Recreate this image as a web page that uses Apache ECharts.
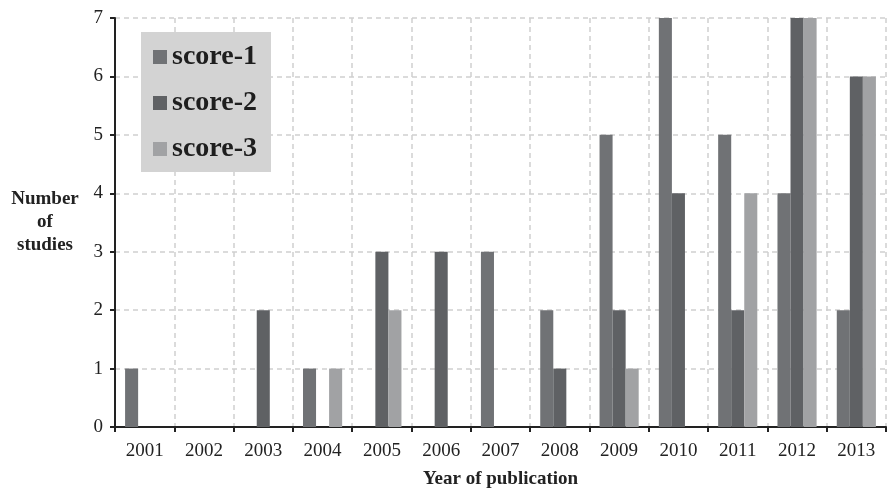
<!DOCTYPE html>
<html>
<head>
<meta charset="utf-8">
<script src="https://cdn.jsdelivr.net/npm/echarts@6/dist/echarts.min.js"></script>
<style>
  html, body { margin: 0; padding: 0; background: #fff; }
  #chart { width: 887px; height: 489px; }
</style>
</head>
<body>
<div id="chart"></div>
<script>
const years = ['2001', '2002', '2003', '2004', '2005', '2006', '2007', '2008', '2009', '2010', '2011', '2012', '2013'];
const score1 = [1, 0, 0, 1, 0, 0, 3, 2, 5, 7, 5, 4, 2];
const score2 = [0, 0, 2, 0, 3, 3, 0, 1, 2, 4, 2, 7, 6];
const score3 = [0, 0, 0, 1, 2, 0, 0, 0, 1, 0, 4, 7, 6];

const serif = '"Liberation Serif", "DejaVu Serif", serif';

const chart = echarts.init(document.getElementById('chart'));

const makeBar = (name, data, color) => ({
  name: name,
  type: 'bar',
  data: data,
  barGap: 0,
  barCategoryGap: '34%',
  itemStyle: { color: color },
  emphasis: { disabled: true }
});

chart.setOption({
  animation: false,
  textStyle: { fontFamily: serif },
  grid: { left: 115, right: 1, top: 18, bottom: 62, outerBoundsMode: 'none' },
  legend: {
    orient: 'vertical',
    left: 141,
    top: 32,
    backgroundColor: '#d3d3d3',
    padding: [11, 14, 9, 12],
    itemGap: 18,
    itemWidth: 14,
    itemHeight: 14,
    icon: 'rect',
    textStyle: { fontFamily: serif, fontSize: 28, fontWeight: 'bold', color: '#1e1e1e' },
    data: ['score-1', 'score-2', 'score-3']
  },
  xAxis: {
    type: 'category',
    data: years,
    name: 'Year of publication',
    nameLocation: 'middle',
    nameGap: 43,
    nameTextStyle: { fontFamily: serif, fontSize: 19, fontWeight: 'bold', color: '#222' },
    axisLine: { lineStyle: { color: '#222', width: 2 } },
    axisTick: { show: true, length: 5, lineStyle: { color: '#222', width: 2 } },
    axisLabel: { fontFamily: serif, fontSize: 19, color: '#222', margin: 15 },
    splitLine: { show: true, lineStyle: { color: '#cfcfcf', type: [5, 4], width: 1.5 } }
  },
  yAxis: {
    type: 'value',
    min: 0,
    max: 7,
    interval: 1,
    name: 'Number\nof\nstudies',
    nameLocation: 'middle',
    nameRotate: 0,
    nameGap: 70,
    nameTextStyle: { fontFamily: serif, fontSize: 19, fontWeight: 'bold', color: '#222', align: 'center', lineHeight: 23 },
    axisLine: { show: true, lineStyle: { color: '#222', width: 2 } },
    axisTick: { show: true, length: 5, lineStyle: { color: '#222', width: 2 } },
    axisLabel: { fontFamily: serif, fontSize: 19, color: '#222', margin: 12 },
    splitLine: { show: true, lineStyle: { color: '#cfcfcf', type: [5, 4], width: 1.5 } }
  },
  series: [
    makeBar('score-1', score1, '#707275'),
    makeBar('score-2', score2, '#5f6164'),
    makeBar('score-3', score3, '#a1a2a4')
  ]
});
</script>
</body>
</html>
